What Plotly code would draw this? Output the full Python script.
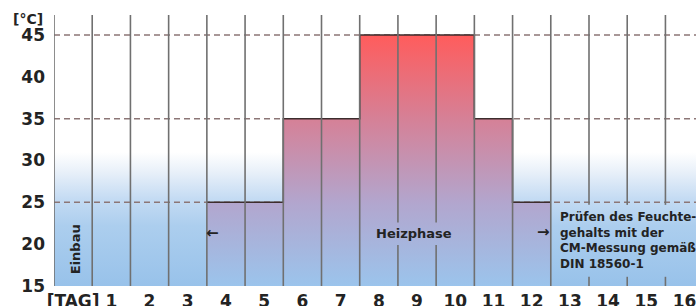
import plotly.graph_objects as go

# ---- data ----
days = list(range(17))
day_labels = ["[TAG]"] + [str(i) for i in range(1, 17)]
temps = [None, None, None, None, 25, 25, 35, 35, 45, 45, 45, 35, 25, None, None, None, None]
y_ticks = [15, 20, 25, 30, 35, 40, 45]
ref_levels = [25, 35, 45]

X_MIN, X_MAX = -0.5, 16.3
Y_MIN, Y_MAX = 15, 47.4
FONT = "DejaVu Sans"
DARK = "rgb(35,35,35)"

heated = [(d, t) for d, t in zip(days, temps) if t is not None]
step_x = [d - 0.5 for d, _ in heated] + [heated[-1][0] + 0.5]
step_y = [t for _, t in heated] + [heated[-1][1]]

fig = go.Figure()

# background soft blue glow
fig.add_trace(go.Scatter(
    x=[X_MIN, X_MAX, X_MAX, X_MIN], y=[Y_MIN, Y_MIN, 31, 31],
    mode="lines", line=dict(width=0), fill="toself",
    fillgradient=dict(type="vertical", start=Y_MIN, stop=31,
                      colorscale=[[0, "rgb(152,194,234)"], [0.45, "rgb(172,206,238)"],
                                  [0.65, "rgb(196,219,243)"], [0.85, "rgb(232,240,249)"],
                                  [1, "rgb(255,255,255)"]]),
    hoverinfo="skip", showlegend=False))

# dashed reference levels
for lvl in ref_levels:
    fig.add_trace(go.Scatter(
        x=[X_MIN, X_MAX], y=[lvl, lvl], mode="lines",
        line=dict(color="rgb(140,118,118)", width=1.5, dash="6px,4px"),
        hoverinfo="skip", showlegend=False))

# heating steps
fig.add_trace(go.Scatter(
    x=step_x, y=step_y, mode="lines", line=dict(shape="hv", color="rgb(60,45,45)", width=1.5),
    fill="tozeroy",
    fillgradient=dict(type="vertical", start=15, stop=45,
                      colorscale=[[0, "rgb(155,196,236)"], [0.33, "rgb(178,166,206)"],
                                  [0.67, "rgb(214,128,150)"], [1, "rgb(255,92,92)"]]),
    hoverinfo="skip", showlegend=False))

# vertical day separators (with gaps behind text labels)
gaps = {8.5: (19.9, 22.6), 9.5: (19.9, 22.6), 13.5: (16.1, 24.7), 14.5: (16.1, 24.7), 15.5: (16.1, 24.7)}
for d in days:
    xv = d - 0.5
    segs = [(Y_MIN, Y_MAX)]
    if xv in gaps:
        g0, g1 = gaps[xv]
        segs = [(Y_MIN, g0), (g1, Y_MAX)]
    for y0, y1 in segs:
        fig.add_shape(type="line", x0=xv, x1=xv, y0=y0, y1=y1, xref="x", yref="y",
                      line=dict(color="rgb(112,112,112)", width=1.6), layer="above")

anns = [
    dict(x=-0.014, y=0.985, xref="paper", yref="paper", text="[°C]", xanchor="right",
         yanchor="middle", font=dict(size=14)),
    dict(x=0.05, y=19.4, text="Einbau", textangle=-90, font=dict(size=13)),
    dict(x=8.92, y=21.3, text="Heizphase", font=dict(size=13)),
    dict(x=3.66, y=21.3, text="←", font=dict(size=15)),
    dict(x=12.31, y=21.4, text="→", font=dict(size=15)),
    dict(x=12.69, y=20.5, text="Prüfen des Feuchte-<br>gehalts mit der<br>CM-Messung gemäß<br>DIN 18560-1",
         xanchor="left", align="left", font=dict(size=12)),
]
for a in anns:
    a.setdefault("xref", "x")
    a.setdefault("yref", "y")
    a.setdefault("yanchor", "middle")
    a["showarrow"] = False
    a["font"].update(family=FONT, color=DARK, weight="bold")
    fig.add_annotation(**a)

fig.update_layout(
    width=696, height=306,
    margin=dict(l=54, r=0, t=15, b=20, autoexpand=False),
    paper_bgcolor="white", plot_bgcolor="white",
    xaxis=dict(range=[X_MIN, X_MAX], tickvals=days, ticktext=day_labels, showgrid=False,
               zeroline=False, showline=False, ticks="", ticklabelstandoff=3, automargin=False,
               ticklabeloverflow="allow",
               tickfont=dict(family=FONT, size=17, color=DARK, weight="bold")),
    yaxis=dict(range=[Y_MIN, Y_MAX], tickvals=y_ticks, showgrid=False, zeroline=False,
               showline=False, ticks="", ticklabelstandoff=8, automargin=False,
               tickfont=dict(family=FONT, size=17, color=DARK, weight="bold")),
)

# remove the default page margin so the figure fills the window exactly
fig.write_html("out.html", config={"displayModeBar": False},
               post_script="document.body.style.margin='0';document.body.style.overflow='hidden';")
